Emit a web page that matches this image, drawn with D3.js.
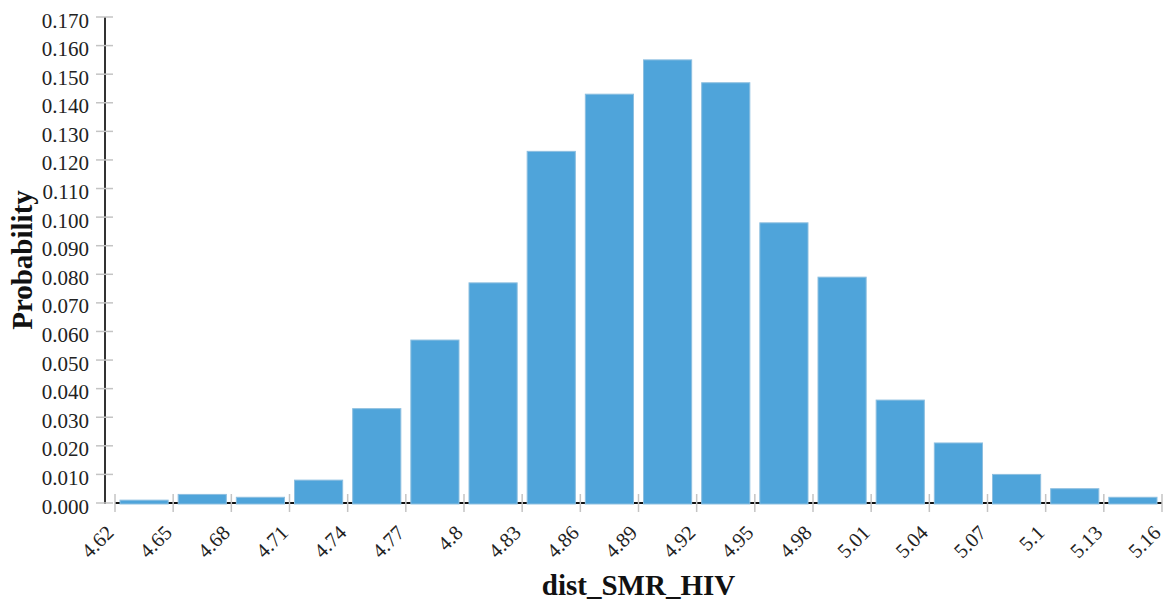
<!DOCTYPE html>
<html>
<head>
<meta charset="utf-8">
<script src="https://cdn.jsdelivr.net/npm/d3@7"></script>
<style>
  html, body { margin: 0; padding: 0; background: #fff; }
  svg { display: block; font-family: "Liberation Serif", "Times New Roman", serif; }
</style>
</head>
<body>
<svg id="chart" width="1169" height="601"></svg>
<script>
// Bin edges (x axis tick labels) for dist_SMR_HIV
const binEdges = ["4.62", "4.65", "4.68", "4.71", "4.74", "4.77", "4.8", "4.83", "4.86",
                  "4.89", "4.92", "4.95", "4.98", "5.01", "5.04", "5.07", "5.1", "5.13", "5.16"];

// Probability of each bin (one value per interval between consecutive edges)
const probabilities = [0.001, 0.003, 0.002, 0.008, 0.033, 0.057, 0.077, 0.123, 0.143,
                       0.155, 0.147, 0.098, 0.079, 0.036, 0.021, 0.010, 0.005, 0.002];

// Y axis tick values
const yTicks = [0, 0.01, 0.02, 0.03, 0.04, 0.05, 0.06, 0.07, 0.08, 0.09,
                0.10, 0.11, 0.12, 0.13, 0.14, 0.15, 0.16, 0.17];

const xTitle = "dist_SMR_HIV";
const yTitle = "Probability";

const svg = d3.select("#chart");

const plot = { left: 115, right: 1162, top: 17, bottom: 503, yAxisX: 105 };

const edgeValues = binEdges.map(Number);
const x = d3.scaleLinear()
  .domain([edgeValues[0], edgeValues[edgeValues.length - 1]])
  .range([plot.left, plot.right]);

const y = d3.scaleLinear()
  .domain([0, 0.17])
  .range([plot.bottom, plot.top]);

const bins = probabilities.map((p, i) => ({ x0: edgeValues[i], x1: edgeValues[i + 1], p }));

// X axis baseline (black, visible between bars)
svg.append("line")
  .attr("x1", plot.left).attr("x2", plot.right)
  .attr("y1", plot.bottom).attr("y2", plot.bottom)
  .attr("stroke", "#111").attr("stroke-width", 2);

// Bars
const inset = 5;
svg.append("g").selectAll("rect")
  .data(bins)
  .join("rect")
  .attr("x", d => x(d.x0) + inset)
  .attr("width", d => x(d.x1) - x(d.x0) - 2 * inset)
  .attr("y", d => y(d.p))
  .attr("height", d => y(0) - y(d.p) + 1)
  .attr("fill", "#4fa4da")
  .attr("stroke", "#8dbfe0")
  .attr("stroke-width", 1);

// X ticks crossing the baseline
const xAxisG = svg.append("g");
xAxisG.selectAll("line.tick")
  .data(binEdges)
  .join("line")
  .attr("class", "tick")
  .attr("x1", d => x(+d)).attr("x2", d => x(+d))
  .attr("y1", plot.bottom - 9).attr("y2", plot.bottom + 9)
  .attr("stroke", "#c4c4c4").attr("stroke-width", 1.5);

xAxisG.selectAll("text")
  .data(binEdges)
  .join("text")
  .attr("transform", d => `translate(${x(+d)},${plot.bottom + 31}) rotate(-45)`)
  .attr("text-anchor", "end")
  .attr("font-size", 20.5)
  .attr("fill", "#222")
  .text(d => d);

// Y axis line
svg.append("line")
  .attr("x1", plot.yAxisX).attr("x2", plot.yAxisX)
  .attr("y1", plot.top).attr("y2", plot.bottom + 1)
  .attr("stroke", "#333").attr("stroke-width", 2);

// Y ticks crossing the axis line
const yAxisG = svg.append("g");
yAxisG.selectAll("line")
  .data(yTicks)
  .join("line")
  .attr("x1", plot.yAxisX - 9).attr("x2", plot.yAxisX + 8)
  .attr("y1", d => y(d)).attr("y2", d => y(d))
  .attr("stroke", "#c4c4c4").attr("stroke-width", 1.5);

yAxisG.selectAll("text")
  .data(yTicks)
  .join("text")
  .attr("x", plot.yAxisX - 16)
  .attr("y", d => y(d))
  .attr("dy", "0.5em")
  .attr("text-anchor", "end")
  .attr("font-size", 21)
  .attr("fill", "#222")
  .text(d => d3.format(".3f")(d));

// Axis titles
svg.append("text")
  .attr("x", (plot.left + plot.right) / 2)
  .attr("y", 595)
  .attr("text-anchor", "middle")
  .attr("font-size", 29)
  .attr("font-weight", "bold")
  .attr("fill", "#111")
  .text(xTitle);

svg.append("text")
  .attr("transform", `translate(32,${(plot.top + plot.bottom) / 2}) rotate(-90)`)
  .attr("text-anchor", "middle")
  .attr("font-size", 29)
  .attr("font-weight", "bold")
  .attr("fill", "#111")
  .text(yTitle);
</script>
</body>
</html>
